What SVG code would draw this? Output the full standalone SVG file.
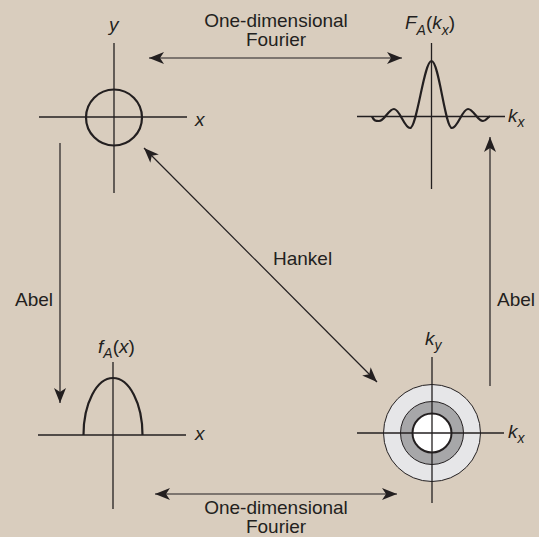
<svg xmlns="http://www.w3.org/2000/svg" width="539" height="537" viewBox="0 0 539 537">
<defs>
<style>
.ax{stroke:#231f20;stroke-width:1.3;fill:none}
.cv{stroke:#231f20;stroke-width:2.2;fill:none}
.ar{stroke:#231f20;stroke-width:1.2;fill:none;marker-end:url(#ah)}
.ar2{stroke:#231f20;stroke-width:1.2;fill:none;marker-start:url(#ahs);marker-end:url(#ah)}
.t{font-family:"Liberation Sans",Arial,sans-serif;font-size:19px;fill:#231f20}
.i{font-family:"Liberation Sans",Arial,sans-serif;font-size:19px;font-style:italic;fill:#231f20}
.s{font-size:14px}
</style>
<marker id="ah" markerUnits="userSpaceOnUse" markerWidth="18" markerHeight="12" refX="15" refY="6" orient="auto">
<path d="M0,0 L15,6 L0,12 L4,6 z" fill="#231f20"/>
</marker>
<marker id="ahs" markerUnits="userSpaceOnUse" markerWidth="18" markerHeight="12" refX="0" refY="6" orient="auto">
<path d="M15,0 L0,6 L15,12 L11,6 z" fill="#231f20"/>
</marker>
</defs>
<rect width="539" height="537" fill="#d9cdbe"/>

<g id="connectors">
<line class="ar2" x1="149" y1="58" x2="402" y2="58"/>
<line class="ar2" x1="155" y1="494" x2="397" y2="494"/>
<line class="ar" x1="60" y1="143" x2="60" y2="403"/>
<line class="ar" x1="490" y1="386" x2="490" y2="137"/>
<line class="ar2" x1="144" y1="148" x2="377" y2="382"/>
<text class="t" x="276" y="27" text-anchor="middle">One-dimensional</text>
<text class="t" x="276" y="46" text-anchor="middle">Fourier</text>
<text class="t" x="276" y="513.5" text-anchor="middle">One-dimensional</text>
<text class="t" x="276" y="532.5" text-anchor="middle">Fourier</text>
<text class="t" x="15" y="306">Abel</text>
<text class="t" x="497" y="306">Abel</text>
<text class="t" x="273" y="265">Hankel</text>
</g>

<g id="circle-xy">
<line class="ax" x1="39" y1="117" x2="187" y2="117"/>
<line class="ax" x1="114" y1="43" x2="114" y2="193"/>
<circle class="cv" cx="114" cy="117.5" r="28"/>
<text class="i" x="195" y="126">x</text>
<text class="i" x="109" y="31">y</text>
</g>

<g id="fourier-FA">
<line class="ax" x1="357" y1="116.5" x2="505" y2="116.5"/>
<line class="ax" x1="431.5" y1="43" x2="431.5" y2="189"/>
<path class="cv" d="M372,116.5 C374,121 376,121 379,121 C384.4,121 388.6,109 394,109 C399.8,109 404.2,128 410,128 C417,128 424,61 431.5,61 C439,61 445,128 452,128 C457.8,128 462.2,109 468,109 C473.4,109 477.6,121 483,121 C486,121 488,116.5 490,116.5"/>
<text class="i" x="405" y="29">F<tspan class="s" dy="6">A</tspan><tspan dy="-6" font-style="normal">(</tspan>k<tspan class="s" dy="6">x</tspan><tspan dy="-6" font-style="normal">)</tspan></text>
<text class="i" x="508" y="122">k<tspan class="s" dy="5">x</tspan></text>
</g>

<g id="abel-fA">
<line class="ax" x1="38" y1="435" x2="186" y2="435"/>
<line class="ax" x1="113" y1="362" x2="113" y2="509"/>
<path class="cv" d="M83.5,435 A29.5,57 0 0 1 142.5,435"/>
<text class="i" x="195" y="440">x</text>
<text class="i" x="98" y="353">f<tspan class="s" dy="5">A</tspan><tspan dy="-5" font-style="normal">(</tspan>x<tspan font-style="normal">)</tspan></text>
</g>

<g id="hankel-k">
<circle cx="432" cy="433" r="48.5" fill="#e6e6e8" stroke="#231f20" stroke-width="1"/>
<circle cx="432" cy="433" r="31.5" fill="#a7a7a9" stroke="#231f20" stroke-width="1"/>
<circle cx="432" cy="433" r="19.5" fill="#ffffff" stroke="#231f20" stroke-width="2"/>
<line class="ax" x1="357" y1="433" x2="504" y2="433"/>
<line class="ax" x1="432" y1="357" x2="432" y2="503"/>
<text class="i" x="425" y="345">k<tspan class="s" dy="5">y</tspan></text>
<text class="i" x="508" y="438">k<tspan class="s" dy="5">x</tspan></text>
</g>
</svg>
